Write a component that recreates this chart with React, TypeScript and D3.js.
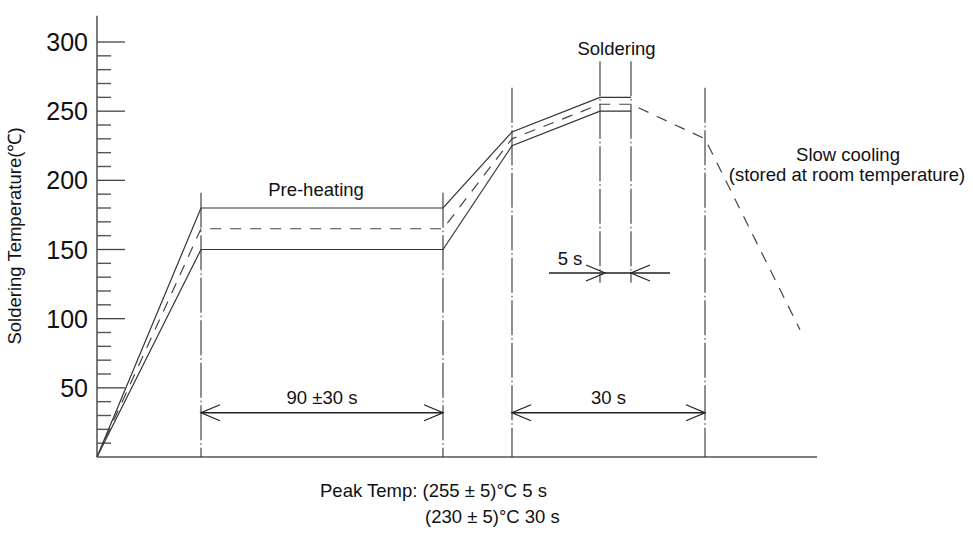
import React from "react";
import * as d3 from "d3";

// ---- Data (time in arbitrary profile units, temperature in °C) ----
const upperT = [0, 104, 346, 415, 503, 534];
const upperTemp = [0, 180, 180, 235, 260, 260];
const lowerT = [0, 104, 346, 415, 503, 534];
const lowerTemp = [0, 150, 150, 225, 250, 250];
const nominalT = [0, 104, 346, 415, 503, 534, 608, 703];
const nominalTemp = [0, 165, 165, 230, 255, 255, 230, 92];

// vertical guide lines: [time, topTemp, bottomTemp]
const guideT = [104, 346, 415, 608, 503, 534];
const guideTop = [191, 191, 267, 267, 286, 286];
const guideBottom = [0, 0, 0, 0, 126, 126];

const majorTicks = [50, 100, 150, 200, 250, 300];
const minorTicks = [10, 20, 30, 40, 60, 70, 80, 90, 110, 120, 130, 140, 160, 170, 180, 190, 210, 220, 230, 240, 260, 270, 280, 290];

const FONT = "'Liberation Sans', Arial, sans-serif";

export default function App() {
  const W = 973, H = 534;
  const x = d3.scaleLinear().domain([0, 720]).range([97, 817]);
  const y = d3.scaleLinear().domain([0, 300]).range([457, 42]);

  const line = d3.line<[number, number]>().x(d => x(d[0])).y(d => y(d[1]));
  const upper = line(upperT.map((t, i) => [t, upperTemp[i]]));
  const lower = line(lowerT.map((t, i) => [t, lowerTemp[i]]));
  const nominal = line(nominalT.map((t, i) => [t, nominalTemp[i]]));

  const arrowHead = (tipX: number, tipY: number, dir: number, key: string) => (
    <path
      key={key}
      d={`M${tipX - dir * 19},${tipY - 8}L${tipX},${tipY}L${tipX - dir * 19},${tipY + 8}`}
      fill="none"
      stroke="#222"
      strokeWidth={1.3}
    />
  );

  const dimY = y(32);
  const fiveY = y(133);

  return (
    <svg width={W} height={H} style={{ position: "absolute", left: 0, top: 0, background: "#fff" }}>
      <rect width={W} height={H} fill="#fff" />
      {/* axes */}
      <line x1={x(0)} x2={x(0)} y1={y(319)} y2={y(0)} stroke="#333" strokeWidth={1.3} />
      <line x1={x(0)} x2={x(720)} y1={y(0)} y2={y(0)} stroke="#555" strokeWidth={1.6} />
      {minorTicks.map(t => (
        <line key={"mi" + t} x1={x(0)} x2={x(0) + 14} y1={y(t)} y2={y(t)} stroke="#555" strokeWidth={1.4} />
      ))}
      {majorTicks.map(t => (
        <g key={"ma" + t}>
          <line x1={x(0)} x2={x(0) + 28} y1={y(t)} y2={y(t)} stroke="#444" strokeWidth={1.3} />
          <text x={88} y={y(t)} dy="0.36em" textAnchor="end" fontFamily={FONT} fontSize={25} fill="#111">{t}</text>
        </g>
      ))}
      <text transform={`translate(15,236) rotate(-90)`} textAnchor="middle" dy="0.35em" fontFamily={FONT} fontSize={18.5} fill="#111">
        Soldering Temperature(℃)
      </text>

      {/* guide lines */}
      {guideT.map((t, i) => (
        <line key={"g" + i} x1={x(t)} x2={x(t)} y1={y(guideTop[i])} y2={y(guideBottom[i])}
          stroke="#333" strokeWidth={1.1} strokeDasharray="35 3 1.5 3" />
      ))}

      {/* profile */}
      <path d={upper || ""} fill="none" stroke="#333" strokeWidth={1.2} />
      <path d={lower || ""} fill="none" stroke="#333" strokeWidth={1.2} />
      <path d={nominal || ""} fill="none" stroke="#444" strokeWidth={1.2} strokeDasharray="11 9" />

      {/* dimension arrows */}
      <line x1={x(104)} x2={x(346)} y1={dimY} y2={dimY} stroke="#222" strokeWidth={1.5} />
      {arrowHead(x(104), dimY, -1, "a1")}
      {arrowHead(x(346), dimY, 1, "a2")}
      <line x1={x(415)} x2={x(608)} y1={dimY} y2={dimY} stroke="#222" strokeWidth={1.5} />
      {arrowHead(x(415), dimY, -1, "a3")}
      {arrowHead(x(608), dimY, 1, "a4")}
      <line x1={x(452)} x2={x(573)} y1={fiveY} y2={fiveY} stroke="#222" strokeWidth={1.5} />
      {arrowHead(x(503) + 5, fiveY, 1, "a5")}
      {arrowHead(x(534), fiveY, -1, "a6")}

      {/* labels */}
      <g fontFamily={FONT} fontSize={18.5} fill="#111" textAnchor="middle">
        <text x={x(219)} y={196}>Pre-heating</text>
        <text x={x(519.5)} y={55}>Soldering</text>
        <text x={848} y={161}>Slow cooling</text>
        <text x={847} y={181}>(stored at room temperature)</text>
        <text x={x(225)} y={404}>90 ±30 s</text>
        <text x={x(511.5)} y={404}>30 s</text>
        <text x={570} y={265}>5 s</text>
      </g>
      <g fontFamily={FONT} fontSize={18.5} fill="#111">
        <text x={320} y={497}>Peak Temp: (255 ± 5)°C 5 s</text>
        <text x={425} y={523}>(230 ± 5)°C 30 s</text>
      </g>
    </svg>
  );
}
